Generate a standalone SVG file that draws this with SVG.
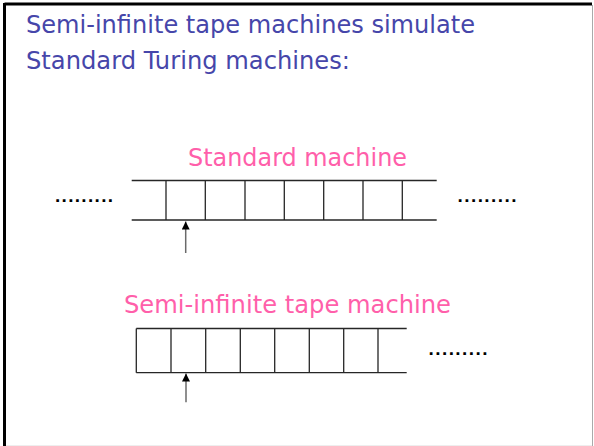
<svg xmlns="http://www.w3.org/2000/svg" width="594" height="446" viewBox="0 0 594 446">
<defs>
<style>
.title{font-family:"DejaVu Sans","Liberation Sans",sans-serif;font-size:24px;fill:#4646AA}
.label{font-family:"DejaVu Sans","Liberation Sans",sans-serif;font-size:24px;fill:#FF5FAA}
.dots{font-family:"Liberation Sans",sans-serif;font-size:19px;font-weight:bold;fill:#000}
.tape{stroke:#262626;stroke-width:1.3;fill:none}
.head{stroke:#6a6a6a;stroke-width:1.5;fill:none}
</style>
<marker id="ah" viewBox="0 0 10 10" refX="10" refY="5" markerWidth="8.5" markerHeight="8" markerUnits="userSpaceOnUse" orient="auto">
<path d="M0,0 L10,5 L0,10 Z" fill="#000"/>
</marker>
</defs>
<rect x="0" y="0" width="594" height="446" fill="#fff"/>
<line x1="4.5" y1="4" x2="592" y2="4" stroke="#000" stroke-width="3"/>
<line x1="4.5" y1="3" x2="4.5" y2="446" stroke="#000" stroke-width="3"/>
<line x1="592.5" y1="5" x2="592.5" y2="446" stroke="#aaa" stroke-width="1"/>
<line x1="6" y1="445.5" x2="592" y2="445.5" stroke="#eee" stroke-width="1"/>

<g id="title">
<text class="title" x="26" y="33" textLength="449" lengthAdjust="spacingAndGlyphs">Semi-infinite tape machines simulate</text>
<text class="title" x="26" y="69" textLength="324" lengthAdjust="spacingAndGlyphs">Standard Turing machines:</text>
</g>

<g id="standard-machine">
<text class="label" x="188" y="166" textLength="219" lengthAdjust="spacingAndGlyphs">Standard machine</text>
<path class="tape" d="M131.7,180.5 H436.7 M131.7,220 H436.7 M166,180.5 V220 M205.3,180.5 V220 M245,180.5 V220 M284.3,180.5 V220 M323.7,180.5 V220 M363,180.5 V220 M402.3,180.5 V220"/>
<text class="dots" x="55" y="201.5" textLength="58" lengthAdjust="spacing">.........</text>
<text class="dots" x="457.5" y="201.5" textLength="59" lengthAdjust="spacing">.........</text>
</g>

<g id="semi-infinite-machine">
<text class="label" x="124" y="313" textLength="327" lengthAdjust="spacingAndGlyphs">Semi-infinite tape machine</text>
<path class="tape" d="M136.3,328.5 H406.7 M136.3,372.7 H406.7 M136.3,328.5 V372.7 M171,328.5 V372.7 M205.7,328.5 V372.7 M240.3,328.5 V372.7 M274.7,328.5 V372.7 M309.3,328.5 V372.7 M343.7,328.5 V372.7 M378,328.5 V372.7"/>
<text class="dots" x="428.5" y="354.5" textLength="59" lengthAdjust="spacing">.........</text>
</g>

<g id="connectors">
<line class="head" x1="185.7" y1="253" x2="185.7" y2="221.5" marker-end="url(#ah)"/>
<line class="head" x1="186" y1="402.3" x2="186" y2="373.5" marker-end="url(#ah)"/>
</g>
</svg>
